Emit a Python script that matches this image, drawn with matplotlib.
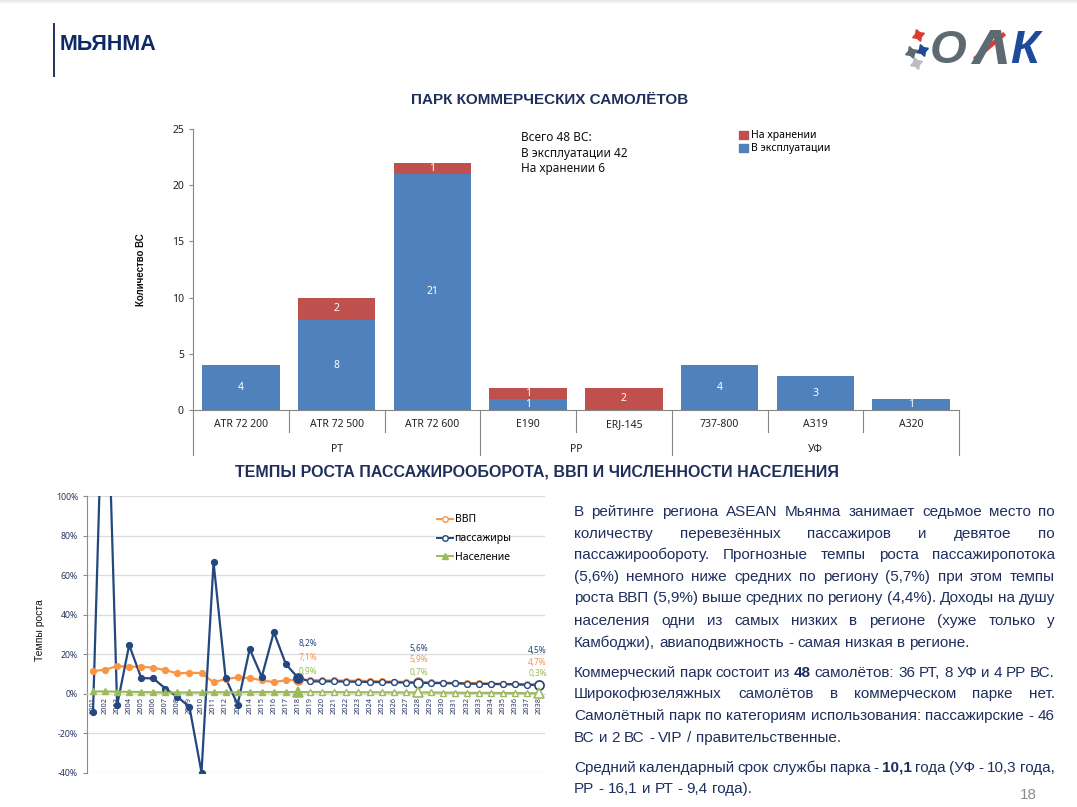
import matplotlib
matplotlib.use('Agg')
import matplotlib.pyplot as plt
import matplotlib.transforms as mtransforms
from matplotlib.lines import Line2D
from matplotlib.patches import Patch, Rectangle
import numpy as np

# === Данные: парк коммерческих самолётов ===
models = ['ATR 72 200', 'ATR 72 500', 'ATR 72 600', 'E190', 'ERJ-145', '737-800', 'A319', 'A320']
groups = ['РТ', 'РР', 'УФ']
group_sizes = [3, 2, 3]
in_service = [4, 8, 21, 1, 0, 4, 3, 1]
stored = [0, 2, 1, 1, 2, 0, 0, 0]

# === Данные: темпы роста, % ===
years = list(range(2001, 2039))
gdp = [11.5, 12.2, 14.0, 13.7, 13.7, 13.2, 12.0, 10.3, 10.7, 10.5, 5.8, 7.5, 8.3, 8.0, 6.9, 5.9, 6.9, 7.1,
       7.0, 6.9, 6.8, 6.7, 6.6, 6.5, 6.3, 6.2, 6.0, 5.9, 5.8, 5.7, 5.5, 5.4, 5.3, 5.2, 5.0, 4.9, 4.8, 4.7]
passengers = [-9.2, 200.0, -5.8, 24.7, 8.0, 7.8, 2.7, -1.5, -6.6, -39.8, 66.5, 8.0, -5.4, 22.7, 8.6, 31.2, 15.0, 8.2,
              6.3, 6.3, 6.3, 6.2, 6.1, 6.0, 5.9, 5.8, 5.7, 5.6, 5.5, 5.4, 5.3, 5.2, 5.1, 5.0, 4.9, 4.8, 4.6, 4.5]
population = [1.2, 1.2, 1.1, 1.0, 0.9, 0.8, 0.7, 0.7, 0.7, 0.7, 0.8, 0.8, 0.8, 0.9, 0.9, 0.9, 0.9, 0.9,
              0.9, 0.9, 0.9, 0.8, 0.8, 0.8, 0.8, 0.7, 0.7, 0.7, 0.7, 0.6, 0.6, 0.5, 0.5, 0.5, 0.4, 0.4, 0.3, 0.3]
last_fact_year = 2018
key_years = [2018, 2028, 2038]

# === Текст справа ===
paragraphs = [
    ["В рейтинге региона ASEAN Мьянма занимает седьмое место по",
     "количеству перевезённых пассажиров и девятое по",
     "пассажирообороту. Прогнозные темпы роста пассажиропотока",
     "(5,6%) немного ниже средних по региону (5,7%) при этом темпы",
     "роста ВВП (5,9%) выше средних по региону (4,4%). Доходы на душу",
     "населения одни из самых низких в регионе (хуже только у",
     "Камбоджи), авиаподвижность - самая низкая в регионе."],
    ["Коммерческий парк состоит из *48* самолётов: 36 РТ, 8 УФ и 4 РР ВС.",
     "Широкофюзеляжных самолётов в коммерческом парке нет.",
     "Самолётный парк по категориям использования: пассажирские - 46",
     "ВС и 2 ВС - VIP / правительственные."],
    ["Средний календарный срок службы парка - *10,1* года (УФ - 10,3 года,",
     "РР - 16,1 и РТ - 9,4 года)."],
]
para_rows = [[511, 533, 554, 576, 597, 620, 642], [672, 693, 715, 737], [767, 788]]

# Couleurs
NAVY = '#1F2F5C'
BLUE_BAR = '#4F81BD'
RED_BAR = '#C0504D'
C_GDP = '#F79646'
C_PAX = '#24477F'
C_POP = '#9BBB59'
CHART_FONT = ['Noto Sans', 'DejaVu Sans']
TXT_FONT = ['Liberation Sans', 'DejaVu Sans']

W, H = 1077, 807


def fx(x):
    return x / W


def fy(y):
    return 1 - y / H


fig = plt.figure(figsize=(W / 100, H / 100), dpi=100)
fig.patch.set_facecolor('white')

# ombre en haut de la page
for k, c in enumerate(['#E6E6E6', '#EEEEEE', '#F4F4F4', '#F9F9F9']):
    fig.add_artist(Rectangle((0, fy(k + 1)), 1, 1 / H, color=c, lw=0))

# --- En-tête ---
fig.add_artist(Line2D([fx(54), fx(54)], [fy(24), fy(76)], color=NAVY, lw=1.4))
fig.text(fx(60), fy(44), 'МЬЯНМА', fontsize=15.5, weight='bold', color='#0E2A66',
         family=TXT_FONT, va='center')

# logo OAK (approximation)
fig.text(fx(930), fy(51), 'О', fontsize=34, weight='bold', style='italic', color='#5E6A72',
         family=TXT_FONT, va='center')
fig.text(fx(973), fy(51), 'Λ', fontsize=34, weight='bold', style='italic', color='#5E6A72',
         family=['DejaVu Sans'], va='center')
fig.text(fx(1010), fy(51), 'К', fontsize=34, weight='bold', style='italic', color='#1E4A9A',
         family=TXT_FONT, va='center')
fig.add_artist(Line2D([fx(976), fx(1003)], [fy(58), fy(35)], color='#E03A2F', lw=3.2))
for (sx, sy, sc) in [(918, 35, '#E03A2F'), (922, 50, '#1E4A9A'), (911, 52, '#5E6A72'), (916, 63, '#B8BEC2')]:
    fig.add_artist(Line2D([fx(sx)], [fy(sy)], marker=(4, 1, 20), ms=9, color=sc, lw=0))

# --- Titres ---
fig.text(fx(550), fy(100), 'ПАРК КОММЕРЧЕСКИХ САМОЛЁТОВ', fontsize=11, weight='bold',
         color=NAVY, family=TXT_FONT, ha='center', va='center')
fig.text(fx(537), fy(472), 'ТЕМПЫ РОСТА ПАССАЖИРООБОРОТА, ВВП И ЧИСЛЕННОСТИ НАСЕЛЕНИЯ',
         fontsize=11.5, weight='bold', color=NAVY, family=TXT_FONT, ha='center', va='center')

# === Graphique 1 : barres empilées ===
ax1 = fig.add_axes([fx(193), fy(410), (959 - 193) / W, (410 - 129) / H])
x = np.arange(len(models))
ax1.bar(x, in_service, width=0.81, color=BLUE_BAR)
ax1.bar(x, stored, bottom=in_service, width=0.81, color=RED_BAR)
for i in range(len(models)):
    if in_service[i]:
        ax1.text(i, in_service[i] / 2, str(in_service[i]), color='white', ha='center', va='center',
                 fontsize=7.5, family=CHART_FONT)
    if stored[i]:
        ax1.text(i, in_service[i] + stored[i] / 2, str(stored[i]), color='white', ha='center',
                 va='center', fontsize=7.5, family=CHART_FONT)
ax1.set_xlim(-0.5, len(models) - 0.5)
ax1.set_ylim(0, 25)
ax1.set_yticks(range(0, 26, 5))
ax1.set_xticks([])
for s in ['top', 'right']:
    ax1.spines[s].set_visible(False)
ax1.spines['left'].set_color('#868686')
ax1.spines['bottom'].set_color('#868686')
ax1.tick_params(axis='y', labelsize=7.5, length=3, color='#868686', labelcolor='#222222')
for lab in ax1.get_yticklabels():
    lab.set_family(CHART_FONT)
ax1.set_ylabel('Количество ВС', fontsize=7, weight='bold', family=TXT_FONT, color='#111111')
ax1.yaxis.set_label_coords(-0.061, 0.5)

trans = mtransforms.blended_transform_factory(ax1.transData, ax1.transAxes)
for i, m in enumerate(models):
    ax1.text(i, -0.053, m, transform=trans, ha='center', va='center', fontsize=7.5, family=CHART_FONT,
             color='#222222')
# séparateurs de catégories et groupes
bounds = np.cumsum([0] + group_sizes) - 0.5
for b in np.arange(-0.5, len(models)):
    depth = -0.160 if b in bounds else -0.078
    ax1.plot([b, b], [0, depth], transform=trans, color='#868686', lw=0.8, clip_on=False)
start = 0
for g, n in zip(groups, group_sizes):
    ax1.text(start + (n - 1) / 2, -0.139, g, transform=trans, ha='center', va='center', fontsize=7.5,
             family=CHART_FONT, color='#222222')
    start += n

fig.text(fx(521), fy(131), 'Всего 48 ВС:\nВ эксплуатации 42\nНа хранении 6', fontsize=8.5,
         family=CHART_FONT, va='top', linespacing=1.25, color='#111111')
fig.legend(handles=[Patch(color=RED_BAR, label='На хранении'), Patch(color=BLUE_BAR, label='В эксплуатации')],
           loc='upper left', bbox_to_anchor=(fx(730), fy(121)), frameon=False,
           handlelength=0.8, handleheight=0.8, handletextpad=0.35, labelspacing=0.2,
           prop={'family': CHART_FONT, 'size': 7.5})

# === Graphique 2 : temps de croissance ===
ax2 = fig.add_axes([fx(87), fy(773), (545 - 87) / W, (773 - 496) / H])
yrs = np.array(years)
fact = yrs <= last_fact_year
series = [(gdp, C_GDP, 'o'), (passengers, C_PAX, 'o'), (population, C_POP, '^')]
for vals, col, mk in series:
    v = np.array(vals)
    ax2.plot(yrs, v, color=col, lw=1.6, zorder=3)
    ax2.plot(yrs[fact], v[fact], mk, ms=4.2, color=col, zorder=4)
    ax2.plot(yrs[~fact], v[~fact], mk, ms=4.2, mfc='white', mec=col, mew=1, zorder=4)
    for ky in key_years:
        k = years.index(ky)
        face = col if ky <= last_fact_year else 'white'
        ax2.plot([ky], [vals[k]], mk, ms=6.5, mfc=face, mec=col, mew=1.2, zorder=5)

# étiquettes des années clés
y_off = {C_PAX: 24.5, C_GDP: 16, C_POP: 14.5}
x_off = {2018: 7, 2028: 0, 2038: -1}
for vals, col, mk in series:
    for ky in key_years:
        k = years.index(ky)
        ax2.annotate(f'{vals[k]:.1f}%'.replace('.', ','), (ky, vals[k]), xytext=(x_off[ky], y_off[col]),
                     textcoords='offset points', ha='center', va='center', fontsize=6, color=col,
                     family=CHART_FONT, zorder=6)

ax2.set_xlim(years[0] - 0.5, years[-1] + 0.5)
ax2.set_ylim(-40, 100)
ax2.set_yticks(range(-40, 101, 20))
ax2.set_yticklabels([f'{t}%' for t in range(-40, 101, 20)])
ax2.set_xticks(years)
ax2.set_xticklabels([str(y) for y in years])
ax2.grid(axis='y', color='#DDDDDD', lw=0.9)
ax2.set_axisbelow(True)
for s in ['top', 'right']:
    ax2.spines[s].set_visible(False)
ax2.spines['left'].set_color('#8C8C8C')
ax2.spines['bottom'].set_position(('data', 0))
ax2.spines['bottom'].set_color('#DDDDDD')
ax2.tick_params(axis='x', length=0, labelsize=5.3, rotation=90, pad=2, labelcolor='#2A3560')
ax2.tick_params(axis='y', length=3, labelsize=6.3, color='#8C8C8C', labelcolor='#2A3560')
for lab in ax2.get_yticklabels() + ax2.get_xticklabels():
    lab.set_family(CHART_FONT)
ax2.set_ylabel('Темпы роста', fontsize=7.5, family=TXT_FONT, color='#111111')
ax2.yaxis.set_label_coords(-0.092, 0.516)

fig.legend(handles=[Line2D([], [], color=C_GDP, marker='o', mfc='white', ms=4, lw=1.4, label='ВВП'),
                    Line2D([], [], color=C_PAX, marker='o', mfc='white', ms=4, lw=1.4, label='пассажиры'),
                    Line2D([], [], color=C_POP, marker='^', ms=4, lw=1.4, label='Население')],
           loc='upper left', bbox_to_anchor=(fx(428), fy(505)), frameon=False,
           handlelength=1.5, handletextpad=0.15, labelspacing=0.75,
           prop={'family': CHART_FONT, 'size': 7.5})

# === Texte justifié ===
TXT_SIZE = 11
TXT_COLOR = '#1E2E5E'
L, R = 574, 1055
renderer = fig.canvas.get_renderer()


def largeur(s, bold=False):
    t = fig.text(0, 0, s, fontsize=TXT_SIZE, family=TXT_FONT, weight='bold' if bold else 'normal')
    w = t.get_window_extent(renderer).width
    t.remove()
    return w


space_w = largeur('н н') - 2 * largeur('н')
for lines, rows in zip(paragraphs, para_rows):
    for j, (line, ypx) in enumerate(zip(lines, rows)):
        items = [(w.strip('*'), w.startswith('*')) for w in line.split(' ')]
        widths = [largeur(w, b) for w, b in items]
        last = j == len(lines) - 1
        gap = space_w if last else (R - L - sum(widths)) / (len(items) - 1)
        xp = L
        for (w, b), wd in zip(items, widths):
            fig.text(fx(xp), fy(ypx + 5), w, fontsize=TXT_SIZE, family=TXT_FONT, color=TXT_COLOR,
                     weight='bold' if b else 'normal', va='baseline')
            xp += wd + gap

fig.text(fx(1028), fy(795), '18', fontsize=11, color='#8C8C8C', family=TXT_FONT, ha='center', va='center')

fig.savefig('out.png', dpi=100, facecolor='white')
